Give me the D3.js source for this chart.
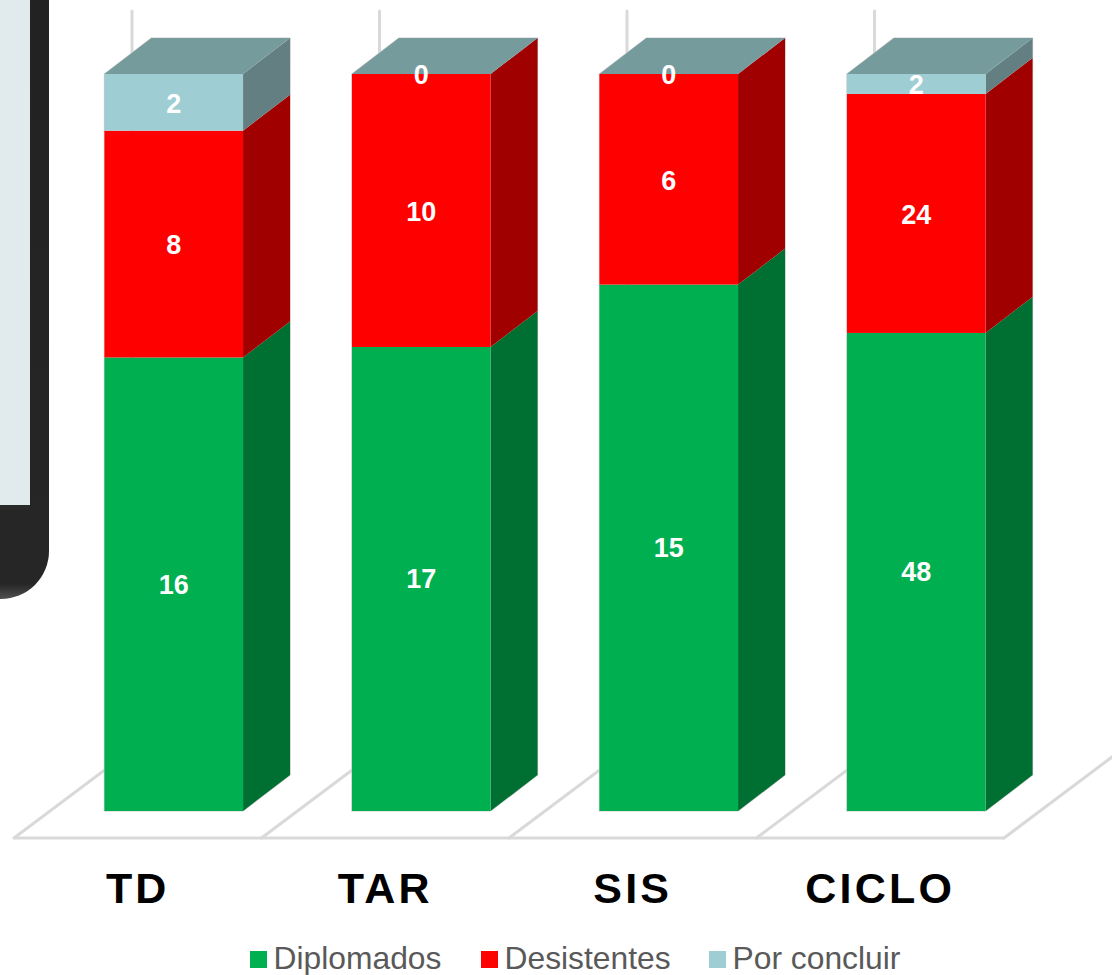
<!DOCTYPE html>
<html>
<head>
<meta charset="utf-8">
<script src="https://cdn.jsdelivr.net/npm/d3@7/dist/d3.min.js"></script>
<style>
html,body{margin:0;padding:0;background:#fff;overflow:hidden}
svg{display:block}
text{font-family:"Liberation Sans",Arial,sans-serif}
</style>
</head>
<body>
<svg id="c" width="1112" height="975"></svg>
<script>
const categories = ["TD","TAR","SIS","CICLO"];
const seriesNames = ["Diplomados","Desistentes","Por concluir"];
const diplomados = [16,17,15,48];
const desistentes = [8,10,6,24];
const porConcluir = [2,0,0,2];
const frontColors = ["#00b050","#ff0000","#9ecdd3"];
const sideColors = ["#006f32","#a00000","#637f81"];
const topColor = "#769b9d";
const labelShift = [0.5,1.5,1.5];

const svg = d3.select("#c");

// Tablet frame cropped at the left edge
const defs = svg.append("defs");
const grad = defs.append("linearGradient").attr("id","frameGrad")
  .attr("x1",0).attr("x2",0).attr("y1",0).attr("y2",1);
grad.append("stop").attr("offset","0").attr("stop-color","#222222");
grad.append("stop").attr("offset","0.975").attr("stop-color","#262626");
grad.append("stop").attr("offset","1").attr("stop-color","#505050");
const framePath = d3.path();
framePath.moveTo(-2,-2);
framePath.lineTo(49,-2);
framePath.lineTo(49,551);
framePath.arcTo(49,599,1,599,48);
framePath.lineTo(-2,599);
framePath.closePath();
svg.append("path").attr("fill","url(#frameGrad)").attr("d",framePath.toString());
svg.append("rect").attr("x",-2).attr("y",-2).attr("width",32).attr("height",507).attr("fill","#e1eaec");
svg.append("rect").attr("x",-2).attr("y",505).attr("width",32).attr("height",5).attr("fill","#2a2a2a");

const rows = categories.map((c,i)=>({cat:c,"Diplomados":diplomados[i],"Desistentes":desistentes[i],"Por concluir":porConcluir[i]}));
const stacked = d3.stack().keys(seriesNames).offset(d3.stackOffsetExpand)(rows);

const depthX = 47, depthY = 36;
const floorY = 838, wallShiftX = 118, wallShiftY = 88.5, wallTop = 11;
const xFloor = d3.scaleBand().domain(categories).range([14,1004]);
const xBar = d3.scaleBand().domain(categories).range([50,1040]).paddingInner(0.44).paddingOuter(0.22);
const y = d3.scaleLinear().domain([0,1]).range([811,74]);

// Floor and wall grid
const grid = svg.append("g").attr("fill","none").attr("stroke","#d9d9d9").attr("stroke-width",3);
const gridXs = categories.map(c=>xFloor(c)).concat([xFloor.range()[1]]);
grid.append("line").attr("x1",xFloor.range()[0]).attr("x2",xFloor.range()[1]).attr("y1",floorY).attr("y2",floorY);
gridXs.forEach(x=>{
  grid.append("path").attr("stroke-linecap","round")
    .attr("d",`M${x},${floorY}L${x+wallShiftX},${floorY-wallShiftY}L${x+wallShiftX},${wallTop}`);
});

// Bars
const poly = pts => "M"+pts.map(p=>p.join(",")).join("L")+"Z";
const bars = svg.append("g");
bars.selectAll("path.edge").data(categories).join("path").attr("class","edge")
  .attr("fill","none").attr("stroke","#cccccc").attr("stroke-width",1.2)
  .attr("d",c=>{
    const x0=xBar(c), x1=x0+xBar.bandwidth(), t=y(1), b=y(0);
    return poly([[x0,b],[x1,b],[x1+depthX,b-depthY],[x1+depthX,t-depthY],[x0+depthX,t-depthY],[x0,t]]);
  });
stacked.forEach((s,si)=>{
  const g = bars.append("g");
  g.selectAll("path.side").data(s).join("path").attr("class","side")
    .attr("fill",sideColors[si])
    .attr("d",d=>{
      const x1 = xBar(d.data.cat)+xBar.bandwidth();
      return poly([[x1,y(d[0])],[x1+depthX,y(d[0])-depthY],[x1+depthX,y(d[1])-depthY],[x1,y(d[1])]]);
    });
  g.selectAll("rect").data(s).join("rect")
    .attr("x",d=>xBar(d.data.cat)).attr("width",xBar.bandwidth())
    .attr("y",d=>y(d[1])).attr("height",d=>y(d[0])-y(d[1]))
    .attr("fill",frontColors[si]);
});
bars.selectAll("path.top").data(categories).join("path").attr("class","top")
  .attr("fill",topColor)
  .attr("d",c=>{
    const x0=xBar(c), x1=x0+xBar.bandwidth(), t=y(1);
    return poly([[x0,t],[x1,t],[x1+depthX,t-depthY],[x0+depthX,t-depthY]]);
  });

// Data labels
const labels = svg.append("g").attr("fill","#fff").attr("font-weight","700").attr("font-size",27).attr("text-anchor","middle");
stacked.forEach((s,si)=>{
  const src = [diplomados,desistentes,porConcluir][si];
  labels.selectAll(null).data(s).join("text")
    .attr("x",d=>xBar(d.data.cat)+xBar.bandwidth()/2)
    .attr("y",d=>(y(d[0])+y(d[1]))/2+labelShift[si])
    .attr("dy","0.33em")
    .text((d,i)=>src[i]);
});

// Category labels
const axis = d3.axisBottom(xFloor).tickSize(0).tickPadding(0);
const ag = svg.append("g").attr("transform",`translate(0,${floorY})`).call(axis);
ag.select(".domain").remove();
ag.selectAll("text")
  .attr("y",65).attr("dy",0)
  .attr("fill","#000").attr("font-size",43).attr("font-weight","700")
  .attr("font-family",'"Liberation Sans",Arial,sans-serif')
  .attr("letter-spacing",3.2);

// Legend
const legendX = [250,481,709];
const lg = svg.append("g").selectAll("g").data(seriesNames).join("g")
  .attr("transform",(d,i)=>`translate(${legendX[i]},951)`);
lg.append("rect").attr("width",17).attr("height",17).attr("fill",(d,i)=>frontColors[i]);
lg.append("text").attr("x",23.5).attr("y",18).attr("font-size",31.8).attr("fill","#595959").text(d=>d);
</script>
</body>
</html>
